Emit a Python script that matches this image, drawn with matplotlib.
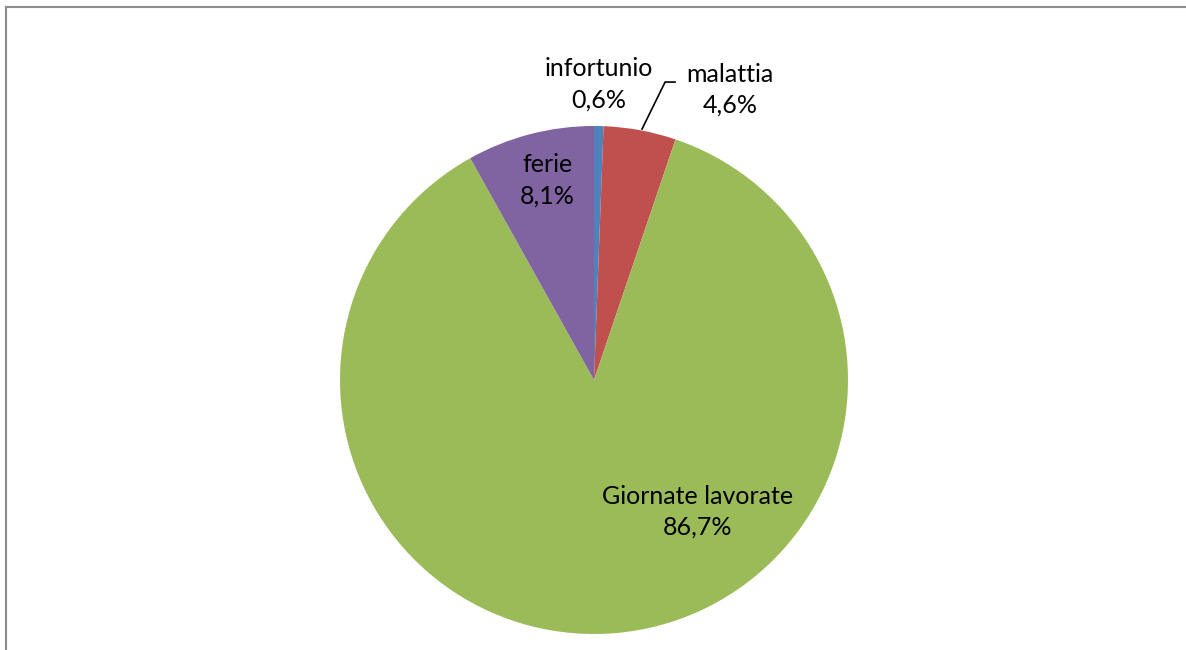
import matplotlib
matplotlib.use("Agg")
import matplotlib.pyplot as plt
from matplotlib.lines import Line2D

categories = ["infortunio", "malattia", "Giornate lavorate", "ferie"]
values = [0.6, 4.6, 86.7, 8.1]
colors = ["#4F81BD", "#C0504D", "#9BBB59", "#8064A2"]
value_labels = ["0,6%", "4,6%", "86,7%", "8,1%"]

W, H = 1186, 650
fig = plt.figure(figsize=(W / 100, H / 100), dpi=100)
plt.rcParams['font.family'] = ['Lato', 'DejaVu Sans']

# frame lines (chart area border partially visible)
fig.add_artist(Line2D([6 / W, 6 / W], [0, 1 - 7 / H], color="#8c8c8c", lw=1.5))
fig.add_artist(Line2D([6 / W, 1], [1 - 7 / H, 1 - 7 / H], color="#8c8c8c", lw=1.5))

cx, cy, r = 594, 380, 254
ax = fig.add_axes([(cx - r) / W, (H - cy - r) / H, 2 * r / W, 2 * r / H])
ax.pie(values, colors=colors, startangle=90, counterclock=False,
       wedgeprops=dict(linewidth=0))
ax.set_xlim(-1, 1)
ax.set_ylim(-1, 1)
ax.set_aspect("equal")
ax.axis("off")

label_pos = [(0.020, 1.165), (0.535, 1.142), (0.406, -0.520), (-0.185, 0.787)]
for name, lab, (x, y) in zip(categories, value_labels, label_pos):
    ax.text(x, y, f"{name}\n{lab}", ha="center", va="center", fontsize=18,
            linespacing=1.42, color="black", clip_on=False)

# leader line for malattia
ax.plot([0.319, 0.280, 0.189], [1.173, 1.173, 0.988], color="black", lw=1.2,
        clip_on=False)

fig.savefig("out.png", dpi=100)
